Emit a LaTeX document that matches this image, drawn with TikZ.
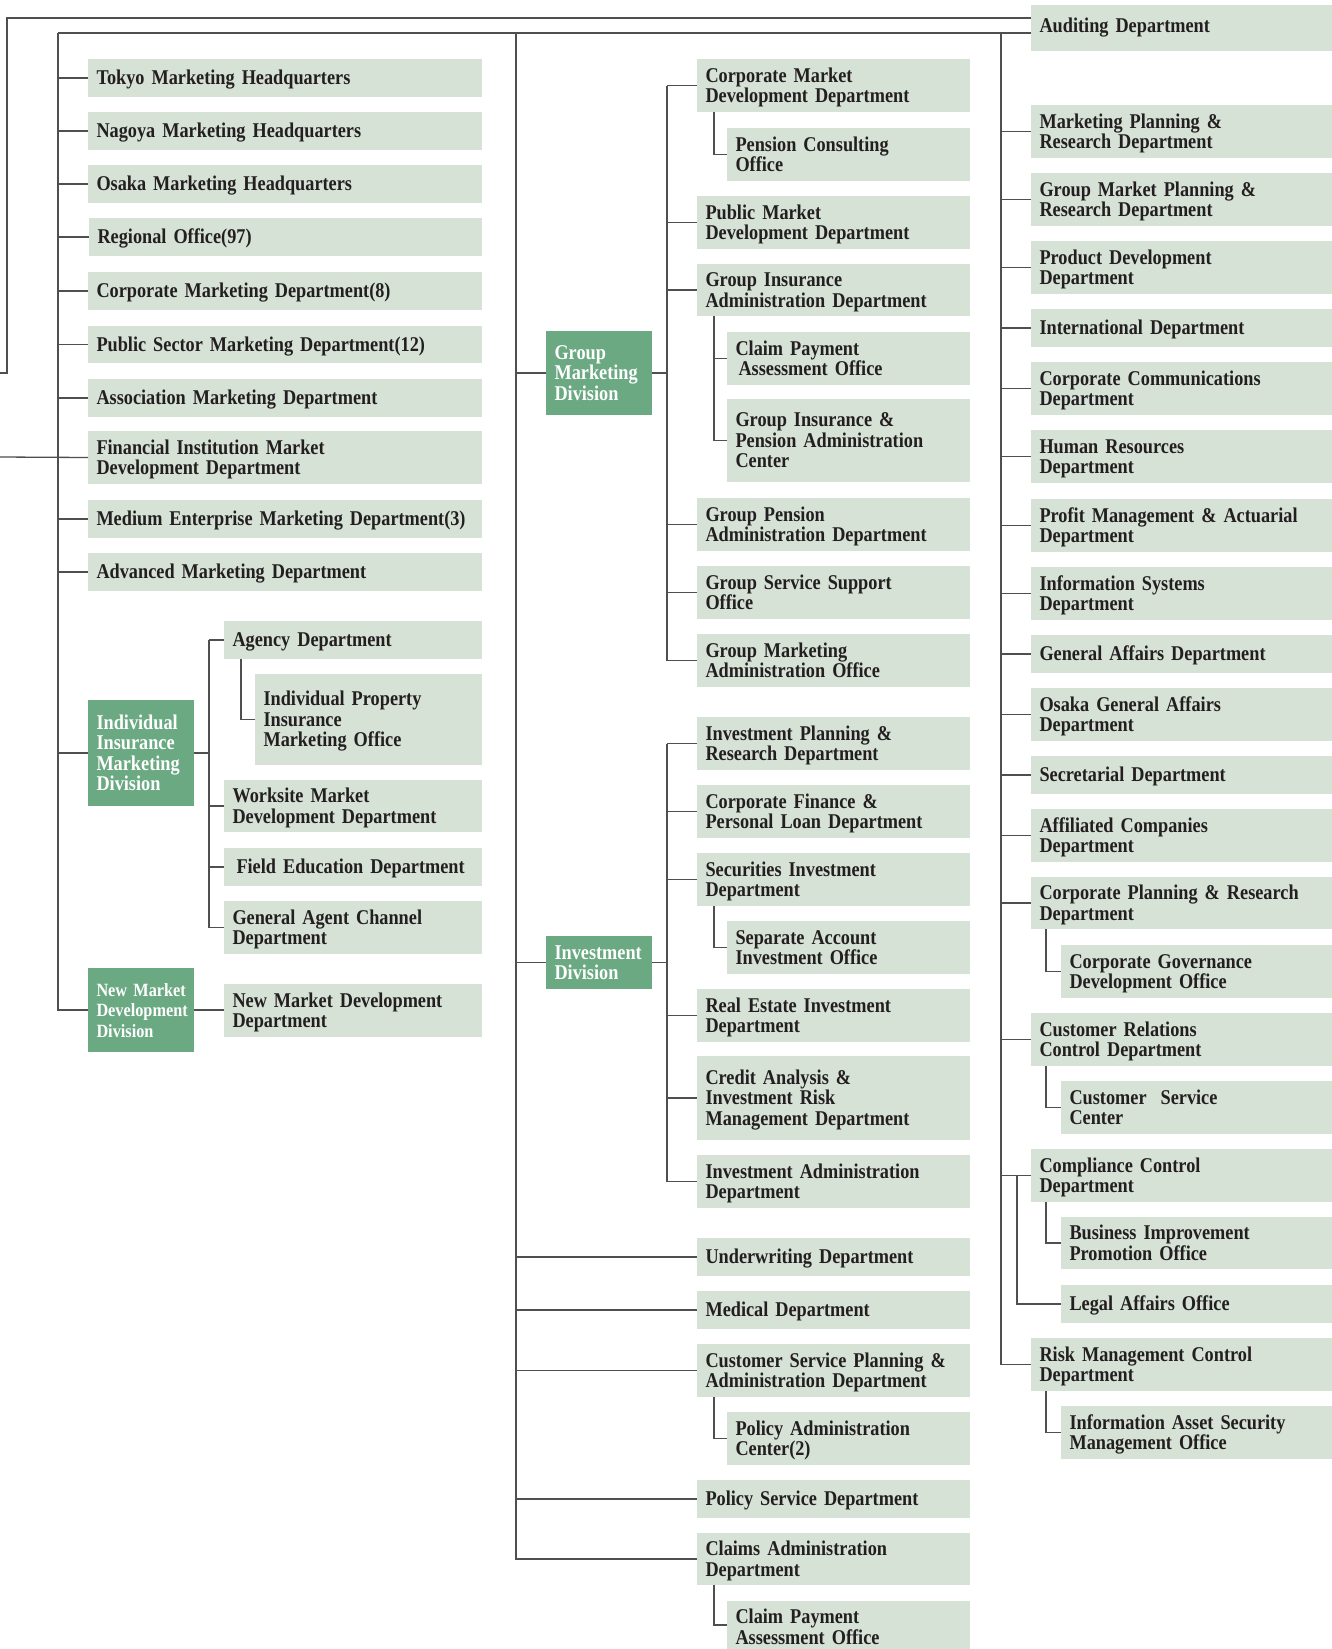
\documentclass[tikz,border=0pt]{standalone}
\usepackage{fontspec}
\newfontfamily\orgfont{Liberation Serif}[FakeStretch=0.87]
\definecolor{boxc}{HTML}{D6E2D6}
\definecolor{divc}{HTML}{6AA982}
\definecolor{lnc}{HTML}{4F4F4F}
\definecolor{txc}{HTML}{231F20}
\newcommand{\otxt}{\orgfont\bfseries\fontsize{21pt}{20.5pt}\selectfont\lineskiplimit=-30pt\hyphenpenalty=10000\exhyphenpenalty=10000\relax}
\newcommand{\otxtsm}{\orgfont\bfseries\fontsize{18.7pt}{20.5pt}\selectfont\lineskiplimit=-30pt\hyphenpenalty=10000\exhyphenpenalty=10000\relax}
\tikzset{
  ln/.style={draw=lnc, line width=1.3pt},
  dbox/.style={fill=boxc, text=txc, font=\otxt, align=left, inner xsep=8.5pt, inner ysep=0pt, outer sep=0pt},
  gbox/.style={dbox, fill=divc, text=white},
  gboxs/.style={gbox, font=\otxtsm},
}
% #1 style, #2 name, #3 x1, #4 y1, #5 x2, #6 y2, #7 lines, #8 text
\newcommand{\orgbox}[8][dbox]{%
  \pgfmathsetmacro\obw{#5-#3}%
  \pgfmathsetmacro\obh{#6-#4}%
  \pgfmathsetmacro\obt{#5-#3-17}%
  \pgfmathsetmacro\obd{(#7-1)*20.5}%
  \node[dbox, anchor=north west, minimum width=\obw pt, minimum height=\obh pt,
        text width=\obt pt, text height=13.8pt, text depth=\obd pt, #1] (#2) at (#3,#4) {#8};%
}
\begin{document}
\begin{tikzpicture}[x=1pt,y=-1pt]
\useasboundingbox (0,0) rectangle (1332,1649);
\fill[white] (0,0) rectangle (1332,1649);

% ---------------- left column ----------------
\orgbox{tokyo}{88}{59}{482}{97}{1}{Tokyo Marketing Headquarters}
\orgbox{nagoya}{88}{112}{482}{150}{1}{Nagoya Marketing Headquarters}
\orgbox{osaka}{88}{165}{482}{203}{1}{Osaka Marketing Headquarters}
\orgbox{regional}{89}{218}{482}{256}{1}{Regional Office(97)}
\orgbox{corpmkt}{88}{272}{482}{310}{1}{Corporate Marketing Department(8)}
\orgbox{pubsec}{88}{326}{482}{363}{1}{Public Sector Marketing Department(12)}
\orgbox{assoc}{88}{379}{482}{417}{1}{Association Marketing Department}
\orgbox{fin}{88}{431}{482}{484}{2}{Financial Institution Market\\Development Department}
\orgbox{medium}{88}{500}{482}{538}{1}{Medium Enterprise Marketing Department(3)}
\orgbox{advanced}{88}{553}{482}{591}{1}{Advanced Marketing Department}
\orgbox[gbox]{iimdiv}{88}{700}{194}{806}{4}{Individual\\Insurance\\Marketing\\Division}
\orgbox{agency}{224}{621}{482}{659}{1}{Agency Department}
\orgbox{ipim}{255}{674}{482}{765}{3}{Individual Property\\Insurance\\Marketing Office}
\orgbox{worksite}{224}{780}{482}{832}{2}{Worksite Market\\Development Department}
\orgbox{fielded}{224}{848}{482}{886}{1}{\hspace*{4pt}Field Education Department}
\orgbox{genagent}{224}{901}{482}{954}{2}{General Agent Channel\\Department}
\orgbox[gboxs]{nmdiv}{88}{968}{194}{1052}{3}{\mbox{New Market}\\\mbox{Development}\\\mbox{Division}}
\orgbox{nmdept}{224}{984}{482}{1037}{2}{New Market Development\\Department}

% ---------------- middle column ----------------
\orgbox[gbox]{gmdiv}{546}{331}{652}{415}{3}{Group\\Marketing\\Division}
\orgbox{cmd}{697}{59}{970}{112}{2}{Corporate Market\\Development Department}
\orgbox{pco}{727}{128}{970}{181}{2}{Pension Consulting\\Office}
\orgbox{pmd}{697}{196}{970}{249}{2}{Public Market\\Development Department}
\orgbox{gia}{697}{264}{970}{316}{2}{Group Insurance\\Administration Department}
\orgbox{cpa}{727}{332}{970}{385}{2}{Claim Payment\\\hspace*{3pt}Assessment Office}
\orgbox{gipac}{727}{399}{970}{482}{3}{Group Insurance \&\\Pension Administration\\Center}
\orgbox{gpa}{697}{498}{970}{551}{2}{Group Pension\\Administration Department}
\orgbox{gss}{697}{566}{970}{619}{2}{Group Service Support\\Office}
\orgbox{gmao}{697}{634}{970}{687}{2}{Group Marketing\\Administration Office}
\orgbox[gbox]{invdiv}{546}{936}{652}{989}{2}{Investment\\Division}
\orgbox{ipr}{697}{717}{970}{770}{2}{Investment Planning \&\\Research Department}
\orgbox{cfpl}{697}{785}{970}{838}{2}{Corporate Finance \&\\Personal Loan Department}
\orgbox{sid}{697}{853}{970}{906}{2}{Securities Investment\\Department}
\orgbox{saio}{727}{921}{970}{974}{2}{Separate Account\\Investment Office}
\orgbox{reid}{697}{989}{970}{1042}{2}{Real Estate Investment\\Department}
\orgbox{ca}{697}{1056}{970}{1140}{3}{Credit Analysis \&\\Investment Risk\\Management Department}
\orgbox{iad}{697}{1155}{970}{1208}{2}{Investment Administration\\Department}
\orgbox{uw}{697}{1238}{970}{1276}{1}{Underwriting Department}
\orgbox{med}{697}{1291}{970}{1329}{1}{Medical Department}
\orgbox{cspa}{697}{1344}{970}{1397}{2}{Customer Service Planning \&\\Administration Department}
\orgbox{pac}{727}{1412}{970}{1465}{2}{Policy Administration\\Center(2)}
\orgbox{psd}{697}{1480}{970}{1518}{1}{Policy Service Department}
\orgbox{cad}{697}{1533}{970}{1585}{2}{Claims Administration\\Department}
\orgbox[text height=17.5pt]{cpb}{727}{1601}{970}{1649}{2}{Claim Payment\\Assessment Office}

% ---------------- right column ----------------
\orgbox[text height=8pt]{audit}{1031}{5}{1332}{51}{1}{Auditing Department}
\orgbox{mpr}{1031}{105}{1332}{158}{2}{Marketing Planning \&\\Research Department}
\orgbox{gmpr}{1031}{173}{1332}{226}{2}{Group Market Planning \&\\Research Department}
\orgbox{pdd}{1031}{241}{1332}{294}{2}{Product Development\\Department}
\orgbox{intl}{1031}{309}{1332}{347}{1}{International Department}
\orgbox{ccom}{1031}{362}{1332}{415}{2}{Corporate Communications\\Department}
\orgbox{hrd}{1031}{430}{1332}{483}{2}{Human Resources\\Department}
\orgbox{pma}{1031}{499}{1332}{552}{2}{Profit Management \& Actuarial\\Department}
\orgbox{isd}{1031}{567}{1332}{620}{2}{Information Systems\\Department}
\orgbox{gad}{1031}{635}{1332}{673}{1}{General Affairs Department}
\orgbox{ogad}{1031}{688}{1332}{741}{2}{Osaka General Affairs\\Department}
\orgbox{sec}{1031}{756}{1332}{794}{1}{Secretarial Department}
\orgbox{acd}{1031}{809}{1332}{862}{2}{Affiliated Companies\\Department}
\orgbox{cpr}{1031}{877}{1332}{929}{2}{Corporate Planning \& Research\\Department}
\orgbox{cgdo}{1061}{945}{1332}{998}{2}{Corporate Governance\\Development Office}
\orgbox{crcd}{1031}{1013}{1332}{1066}{2}{Customer Relations\\Control Department}
\orgbox{csc}{1061}{1081}{1332}{1134}{2}{Customer\ \ Service\\Center}
\orgbox{comp}{1031}{1149}{1332}{1202}{2}{Compliance Control\\Department}
\orgbox{bipo}{1061}{1217}{1332}{1269}{2}{Business Improvement\\Promotion Office}
\orgbox{lao}{1061}{1285}{1332}{1323}{1}{Legal Affairs Office}
\orgbox{rmcd}{1031}{1338}{1332}{1391}{2}{Risk Management Control\\Department}
\orgbox{iasmo}{1061}{1406}{1332}{1459}{2}{Information Asset Security\\Management Office}

% ---------------- connectors ----------------
\coordinate (inA) at (0,373);
\coordinate (cA) at (7,18);
\coordinate (inB) at (0,457);
\coordinate (spL) at (58,33);
\coordinate (spM) at (516,33);
\coordinate (spR) at (1001,33);
\coordinate (spI) at (209,0);
\coordinate (sI) at (241,0);
\coordinate (spG) at (667,0);
\coordinate (sM) at (714,0);
\coordinate (sR) at (1046,0);
\coordinate (sC) at (1017,0);

\draw[ln] (inA) -| (cA) -- (cA -| audit.west);
\draw[ln] (spL) -- (spL -| audit.west);
\draw[ln] (inB) -- (fin.west);

% left spine
\draw[ln] (spL) |- (nmdiv.west);
\foreach \n in {tokyo,nagoya,osaka,regional,corpmkt,pubsec,assoc,medium,advanced,iimdiv}
  \draw[ln] (spL |- \n.west) -- (\n.west);
\draw[ln] (iimdiv.east) -- (iimdiv.east -| spI);
\draw[ln] (spI |- agency.west) -- (agency.west);
\draw[ln] (spI |- agency.west) |- (genagent.west);
\foreach \n in {worksite,fielded}
  \draw[ln] (spI |- \n.west) -- (\n.west);
\draw[ln] (sI |- agency.south) |- (ipim.west);
\draw[ln] (nmdiv.east) -- (nmdiv.east -| nmdept.west);

% middle spine
\draw[ln] (spM) |- (cad.west);
\foreach \n in {gmdiv,invdiv,uw,med,cspa,psd}
  \draw[ln] (spM |- \n.west) -- (\n.west);
\draw[ln] (gmdiv.east) -- (gmdiv.east -| spG);
\draw[ln] (spG |- cmd.west) -- (cmd.west);
\draw[ln] (spG |- cmd.west) |- (gmao.west);
\foreach \n in {pmd,gia,gpa,gss}
  \draw[ln] (spG |- \n.west) -- (\n.west);
\draw[ln] (sM |- cmd.south) |- (pco.west);
\draw[ln] (sM |- gia.south) |- (gipac.west);
\draw[ln] (sM |- cpa.west) -- (cpa.west);
\draw[ln] (invdiv.east) -- (invdiv.east -| spG);
\draw[ln] (spG |- ipr.west) -- (ipr.west);
\draw[ln] (spG |- ipr.west) |- (iad.west);
\foreach \n in {cfpl,sid,reid,ca}
  \draw[ln] (spG |- \n.west) -- (\n.west);
\draw[ln] (sM |- sid.south) |- (saio.west);
\draw[ln] (sM |- cspa.south) |- (pac.west);
\draw[ln] (sM |- cad.south) |- (cpb.west);

% right spine
\draw[ln] (spR) |- (rmcd.west);
\foreach \n in {mpr,gmpr,pdd,intl,ccom,hrd,pma,isd,gad,ogad,sec,acd,cpr,crcd,comp}
  \draw[ln] (spR |- \n.west) -- (\n.west);
\draw[ln] (sR |- cpr.south) |- (cgdo.west);
\draw[ln] (sR |- crcd.south) |- (csc.west);
\draw[ln] (sR |- comp.south) |- (bipo.west);
\draw[ln] (sC |- comp.west) |- (lao.west);
\draw[ln] (sR |- rmcd.south) |- (iasmo.west);
\end{tikzpicture}
\end{document}
